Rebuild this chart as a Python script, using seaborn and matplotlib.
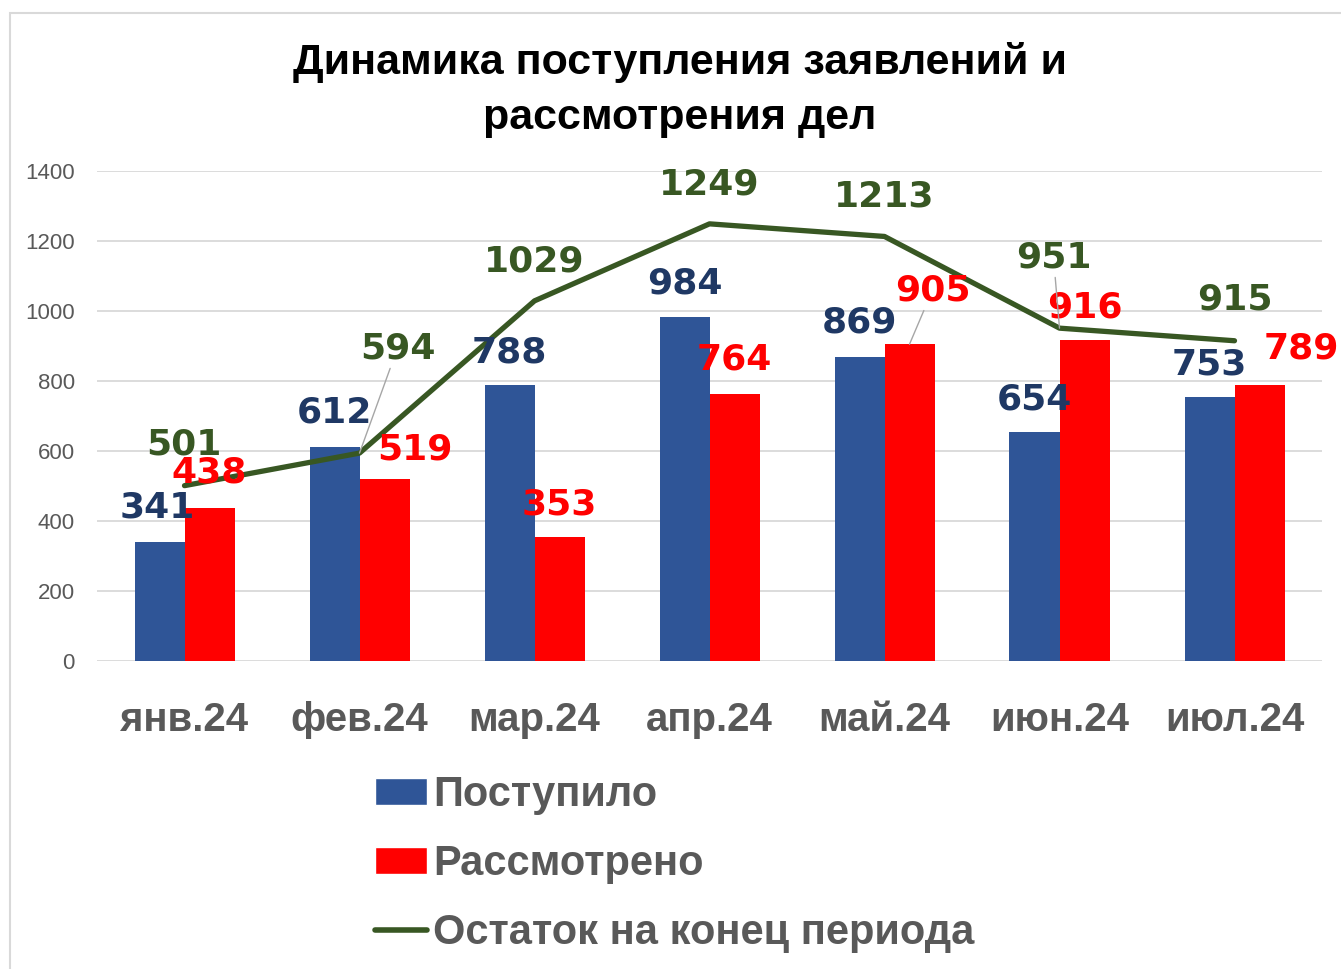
import numpy as np
import pandas as pd
import matplotlib
matplotlib.use('Agg')
import matplotlib.pyplot as plt
import seaborn as sns
from matplotlib.patches import Patch, Rectangle
from matplotlib.lines import Line2D

# данные с графика
months = ['янв.24', 'фев.24', 'мар.24', 'апр.24', 'май.24', 'июн.24', 'июл.24']
postupilo = [341, 612, 788, 984, 869, 654, 753]
rassmotreno = [438, 519, 353, 764, 905, 916, 789]
ostatok = [501, 594, 1029, 1249, 1213, 951, 915]
series_names = ['Поступило', 'Рассмотрено', 'Остаток на конец периода']
title = 'Динамика поступления заявлений и\nрассмотрения дел'

BLUE = '#2F5597'
RED = '#FF0000'
GREEN = '#385723'
NAVY = '#1F3864'
GRAY = '#595959'
GRID = '#D9D9D9'

# смещения подписей (пиксели)
blue_off = [(-2, 34), (0, 34), (0, 33), (0, 33), (0, 34), (0, 33), (0, 33)]
red_off = [(0, 35), (30, 30), (0, 33), (0, 34), (23, 54), (0, 33), (42, 36)]
green_off = [(-1, 41), (38, 105), (0, 39), (0, 39), (0, 40), (-6, 71), (0, 41)]
red_leader = [4]
green_leader = [1, 5]

sns.set_theme(style='white')
plt.rcParams['font.family'] = ['Liberation Sans', 'DejaVu Sans']

W, H = 1341, 969
fig = plt.figure(figsize=(W / 100, H / 100), dpi=100)
ax = fig.add_axes([97 / W, 1 - 661 / H, (1322 - 97) / W, 490 / H])

# рамка области диаграммы
fig.add_artist(Rectangle((10 / W, -0.05), 1.1, 1 - 13 / H + 0.05, transform=fig.transFigure,
                         fill=False, edgecolor=GRID, linewidth=1.5))

df = pd.DataFrame({
    'month': months * 2,
    'value': postupilo + rassmotreno,
    'series': [series_names[0]] * len(months) + [series_names[1]] * len(months),
})
sns.barplot(data=df, x='month', y='value', hue='series', order=months,
            hue_order=series_names[:2], palette=[BLUE, RED], saturation=1,
            width=4 / 7, linewidth=0, legend=False, ax=ax, zorder=2)
sns.lineplot(x=np.arange(len(months)), y=ostatok, color=GREEN, linewidth=3.8,
             ax=ax, zorder=3)

ax.set_xlim(-0.5, len(months) - 0.5)
ax.set_ylim(0, 1400)
ax.set_yticks(range(0, 1401, 200))
ax.set_xticks(range(len(months)))
ax.set_xticklabels(months, fontsize=29, fontweight='bold', color=GRAY)
ax.tick_params(axis='y', labelsize=16, labelcolor=GRAY, length=0, pad=16)
ax.tick_params(axis='x', length=0, pad=29)
ax.set_xlabel('')
ax.set_ylabel('')
ax.yaxis.grid(True, color=GRID, linewidth=1.3)
ax.set_axisbelow(True)
for s in ax.spines.values():
    s.set_visible(False)

lab_kw = dict(textcoords='offset pixels', ha='center', va='center', fontsize=26,
              fontweight='bold', family='DejaVu Sans', zorder=5)
lead = dict(arrowstyle='-', color='#A6A6A6', lw=1, shrinkA=0, shrinkB=0)

for i, v in enumerate(postupilo):
    ax.annotate(str(v), xy=(i - 1 / 7, v), xytext=blue_off[i], color=NAVY, **lab_kw)
for i, v in enumerate(rassmotreno):
    ax.annotate(str(v), xy=(i + 1 / 7, v), xytext=red_off[i], color=RED,
                arrowprops=lead if i in red_leader else None, **lab_kw)
for i, v in enumerate(ostatok):
    ax.annotate(str(v), xy=(i, v), xytext=green_off[i], color=GREEN,
                arrowprops=lead if i in green_leader else None, **lab_kw)

fig.text(0.507, 1 - 90 / H, title, ha='center', va='center', fontsize=31,
         fontweight='bold', color='black', linespacing=1.5)

handles = [Patch(facecolor=BLUE), Patch(facecolor=RED),
           Line2D([0], [0], color=GREEN, linewidth=4)]
fig.legend(handles, series_names, loc='upper left', bbox_to_anchor=(375 / W, 1 - 775 / H),
           frameon=False, prop=dict(size=30, weight='bold'), labelcolor=GRAY,
           handlelength=1.25, handleheight=0.6, handletextpad=0.15, labelspacing=0.7,
           borderaxespad=0, borderpad=0)

fig.savefig('out.png', dpi=100)
